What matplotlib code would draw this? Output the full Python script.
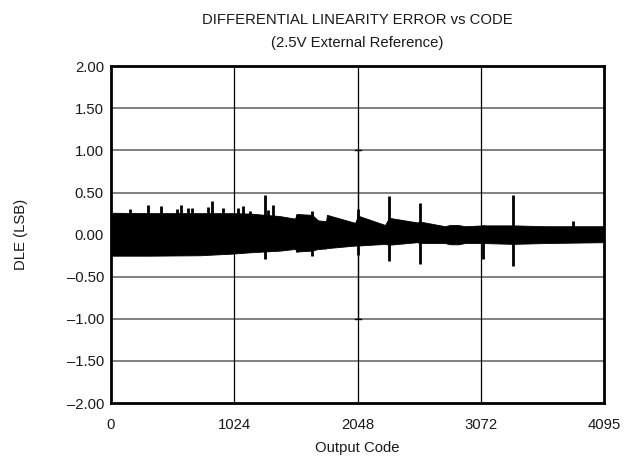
import matplotlib
matplotlib.use('Agg')
import matplotlib.pyplot as plt
import numpy as np

plt.rcParams['font.family'] = ['Liberation Sans', 'DejaVu Sans']

# band envelope of the DLE trace (code, upper, lower)
env_code = [0, 324, 739, 1013, 1155, 1404, 1528, 1545, 1670, 1719, 1786, 1794,
            2027, 2052, 2276, 2309, 2542, 2567, 2774, 2816, 2882, 2940, 3090,
            3339, 3605, 4095]
env_upper = [0.26, 0.255, 0.255, 0.255, 0.25, 0.22, 0.19, 0.245, 0.235, 0.17,
             0.16, 0.235, 0.14, 0.225, 0.115, 0.20, 0.145, 0.155, 0.10, 0.115,
             0.115, 0.10, 0.11, 0.11, 0.10, 0.10]
env_lower = [-0.25, -0.25, -0.245, -0.225, -0.21, -0.19, -0.17, -0.20, -0.19,
             -0.17, -0.165, -0.16, -0.13, -0.13, -0.11, -0.12, -0.09, -0.10,
             -0.10, -0.115, -0.115, -0.10, -0.10, -0.11, -0.10, -0.09]

# individual spikes sticking out of the band
spike_code = [158, 307, 415, 548, 581, 640, 673, 806, 839, 930, 1055, 1096,
              1155, 1279, 1304, 1346, 1545, 1670, 2052, 2309, 2567, 3090, 3339,
              3838]
spike_top = [0.30, 0.35, 0.34, 0.31, 0.355, 0.32, 0.32, 0.33, 0.395, 0.32,
             0.32, 0.34, 0.28, 0.475, 0.29, 0.355, 0.24, 0.285, 0.31, 0.46,
             0.38, 0.12, 0.475, 0.165]
spike_bottom = [0.0, 0.0, 0.0, 0.0, 0.0, 0.0, 0.0, 0.0, 0.0, 0.0, 0.0, 0.0,
                0.0, -0.29, 0.0, 0.0, -0.21, -0.25, -0.24, -0.31, -0.35, -0.29,
                -0.37, 0.0]

# the single wide excursion at mid-scale
mid_code = 2048
mid_top = 1.0
mid_bottom = -1.0

xticks = [0, 1024, 2048, 3072, 4095]
yticks = [-2.0, -1.5, -1.0, -0.5, 0.0, 0.5, 1.0, 1.5, 2.0]

fig = plt.figure(figsize=(6.3, 4.66), dpi=100)
ax = fig.add_axes([0.176, 0.135, 0.783, 0.723])

# grid
for yv in yticks[1:-1]:
    ax.axhline(yv, color='#808080', lw=1.4, zorder=1)
for xv in xticks[1:-1]:
    ax.axvline(xv, color='black', lw=0.9, zorder=1)

ax.fill_between(env_code, env_lower, env_upper, color='black', lw=0.6,
                edgecolor='black', zorder=3)
ax.vlines(spike_code, spike_bottom, spike_top, color='black', lw=2.0, zorder=3)
ax.vlines([mid_code], [mid_bottom], [mid_top], color='black', lw=0.9, zorder=3)
ax.plot([mid_code - 25, mid_code + 25], [mid_top, mid_top], color='black', lw=1.0, zorder=3)
ax.plot([mid_code - 25, mid_code + 25], [mid_bottom, mid_bottom], color='black', lw=1.0, zorder=3)

ax.set_xlim(0, 4095)
ax.set_ylim(-2.0, 2.0)
ax.set_xticks(xticks)
ax.set_xticklabels([str(v) for v in xticks])
ax.set_yticks(yticks)
ax.set_yticklabels(['\u2013%.2f' % abs(v) if v < 0 else '%.2f' % v for v in yticks])
ax.tick_params(length=0, labelsize=10.7, colors='#1a1a1a')
ax.tick_params(axis='x', pad=11)
ax.tick_params(axis='y', pad=5)
for s in ax.spines.values():
    s.set_linewidth(2.0)
    s.set_color('black')
    s.set_zorder(5)

ax.set_xlabel('Output Code', fontsize=10.7, color='#1a1a1a', labelpad=6)
ax.set_ylabel('DLE (LSB)', fontsize=10.7, color='#1a1a1a', labelpad=28)
ax.set_title('DIFFERENTIAL LINEARITY ERROR vs CODE\n(2.5V External Reference)',
             fontsize=10.7, color='#1a1a1a', pad=14, linespacing=1.75)

fig.savefig('out.png', dpi=100)
